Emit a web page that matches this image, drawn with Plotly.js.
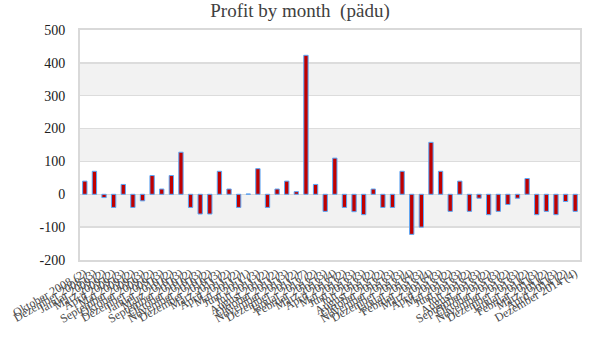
<!DOCTYPE html>
<html>
<head>
<meta charset="utf-8">
<script src="https://cdn.plot.ly/plotly-3.0.1.min.js"></script>
<style>html,body{margin:0;padding:0;background:#fff;}#chart{width:600px;height:360px;}</style>
</head>
<body>
<div id="chart"></div>
<script>
const months = [
  "Oktober 2008 (2)", "Dezember 2008 (3)", "Januar 2009 (2)", "März 2009 (2)", "April 2009 (3)",
  "Mai 2009 (2)", "September 2009 (3)", "Oktober 2009 (2)", "Dezember 2009 (3)", "Januar 2010 (2)",
  "März 2010 (3)", "September 2010 (2)", "Oktober 2010 (3)", "November 2010 (2)", "Dezember 2010 (3)",
  "März 2011 (2)", "April 2011 (2)", "Mai 2011 (1)", "Juni 2011 (3)", "Juli 2011 (2)",
  "August 2011 (2)", "Oktober 2011 (3)", "November 2011 (2)", "Dezember 2011 (7)", "Januar 2012 (2)",
  "Februar 2012 (3)", "März 2012 (4)", "April 2012 (2)", "Mai 2012 (3)", "Juni 2012 (3)",
  "Juli 2012 (2)", "August 2012 (2)", "Oktober 2012 (3)", "November 2012 (3)", "Dezember 2012 (4)",
  "Januar 2013 (3)", "Februar 2013 (4)", "März 2013 (3)", "April 2013 (2)", "Mai 2013 (3)",
  "Juni 2013 (2)", "Juli 2013 (3)", "August 2013 (2)", "September 2013 (3)", "Oktober 2013 (2)",
  "November 2013 (3)", "Dezember 2013 (2)", "Januar 2014 (3)", "Februar 2014 (2)", "März 2014 (3)",
  "April 2014 (2)", "Dezember 2014 (4)"
];
const profit = [
  40, 70, -10, -40, 30, -40, -20, 57, 16, 57,
  128, -40, -60, -60, 70, 16, -40, 1, 78, -40,
  16, 40, 8, 423, 30, -52, 110, -40, -53, -62,
  16, -40, -40, 70, -122, -100, 158, 70, -52, 40,
  -52, -12, -62, -52, -31, -12, 48, -62, -52, -62,
  -22, -52
];
const yTicks = [-200, -100, 0, 100, 200, 300, 400, 500];
const bandColor = "#f2f2f2";
const serif = "Georgia, 'Liberation Serif', 'DejaVu Serif', serif";

// alternating horizontal bands derived from the tick list
const shapes = [];
for (let i = 1; i < yTicks.length - 1; i += 2) {
  shapes.push({
    type: "rect", xref: "paper", yref: "y", layer: "below",
    x0: 0, x1: 1, y0: yTicks[i], y1: yTicks[i + 1],
    fillcolor: bandColor, line: {width: 0}
  });
}

const trace = {
  type: "bar",
  x: months,
  y: profit,
  marker: {color: "#c00000", line: {color: "#5aa8f8", width: 1}},
  hoverinfo: "x+y"
};

const layout = {
  width: 600, height: 360,
  margin: {l: 80, r: 20, t: 30, b: 100},
  paper_bgcolor: "#ffffff",
  plot_bgcolor: "#ffffff",
  title: {
    text: "Profit by month  (pädu)",
    x: 0.5, xanchor: "center", y: 0.99, yanchor: "top",
    font: {family: serif, size: 19, color: "#404040"}
  },
  bargap: 0.55,
  showlegend: false,
  shapes: shapes,
  xaxis: {
    type: "category",
    tickmode: "array",
    tickvals: months,
    ticktext: months,
    tickangle: -30,
    tickfont: {family: serif, size: 12, color: "#484848"},
    showgrid: false,
    showline: true, mirror: true, linecolor: "#d9d9d9", linewidth: 2,
    ticks: "", automargin: false,
    range: [-0.5, months.length - 0.5]
  },
  yaxis: {
    range: [-200, 500],
    tickvals: yTicks,
    ticktext: yTicks.map(v => (v < 0 ? "-" + Math.abs(v) : String(v))),
    tickfont: {family: serif, size: 14, color: "#202020"},
    showgrid: true, gridcolor: "#dcdcdc", gridwidth: 1.5,
    zeroline: false,
    showline: true, mirror: true, linecolor: "#d9d9d9", linewidth: 2,
    ticks: "", ticklabelstandoff: 10,
    automargin: false
  }
};

Plotly.newPlot("chart", [trace], layout, {displayModeBar: false, staticPlot: true});
</script>
</body>
</html>
